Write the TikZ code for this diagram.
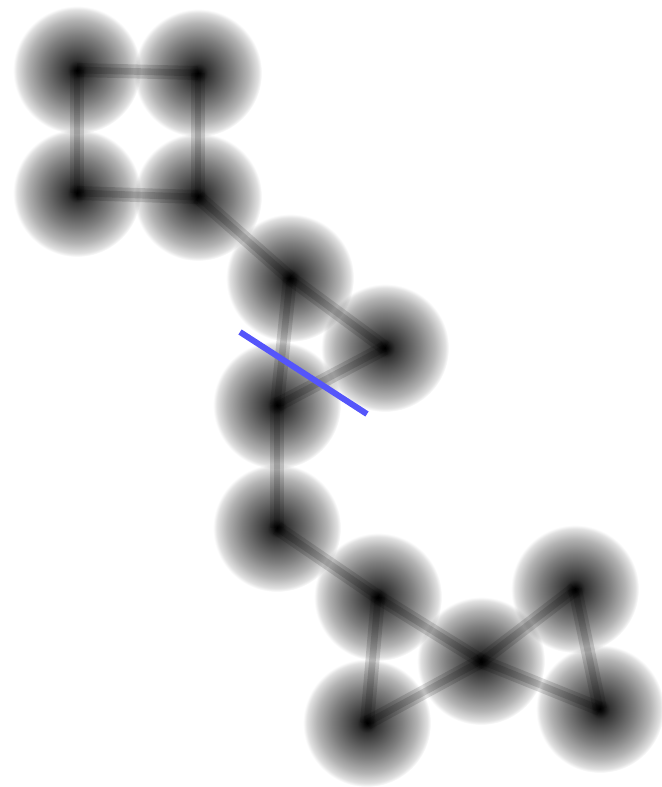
\documentclass[tikz,border=0pt]{standalone}
\pgfdeclareradialshading{blob}{\pgfpoint{0bp}{0bp}}{color(0bp)=(black);color(1.2bp)=(black!95);color(3.9bp)=(black!80);color(7.8bp)=(black!68);color(13.7bp)=(black!50);color(19.5bp)=(black!30);color(23.5bp)=(black!12);color(25bp)=(white);color(50bp)=(white)}
\definecolor{cutblue}{RGB}{85,85,250}
\tikzset{
  blob/.style={circle, minimum size=3.84cm, inner sep=0pt, shading=blob},
  bond/.style={line width=0.42cm, black!14},
  bondcore/.style={line width=0.2cm, black!14},
  cutline/.style={line width=0.18cm, cutblue}
}
\begin{document}
\begin{tikzpicture}[x=0.03cm,y=-0.03cm]
\useasboundingbox (0,0) rectangle (661,787);
\begin{scope}[blend mode=multiply]
\node[blob] (v1) at (77,70) {};
\node[blob] (v2) at (198,73) {};
\node[blob] (v3) at (77,193) {};
\node[blob] (v4) at (198,197) {};
\node[blob] (v5) at (290,278) {};
\node[blob] (v6) at (385,348) {};
\node[blob] (v7) at (277,405) {};
\node[blob] (v8) at (277,528) {};
\node[blob] (v9) at (378,597) {};
\node[blob] (v10) at (575,589) {};
\node[blob] (v11) at (481,661) {};
\node[blob] (v12) at (367,723) {};
\node[blob] (v13) at (600,709) {};
\foreach \a/\b in {1/2,1/3,2/4,3/4,4/5,5/6,5/7,6/7,7/8,8/9,9/11,9/12,11/12,10/11,11/13,10/13}{
  \draw[bond] (v\a.center) -- (v\b.center);
  \draw[bondcore] (v\a.center) -- (v\b.center);
}
\end{scope}
\coordinate (c1) at (240,332);
\coordinate (c2) at (367,414);
\draw[cutline] (c1) -- (c2);
\end{tikzpicture}
\end{document}
